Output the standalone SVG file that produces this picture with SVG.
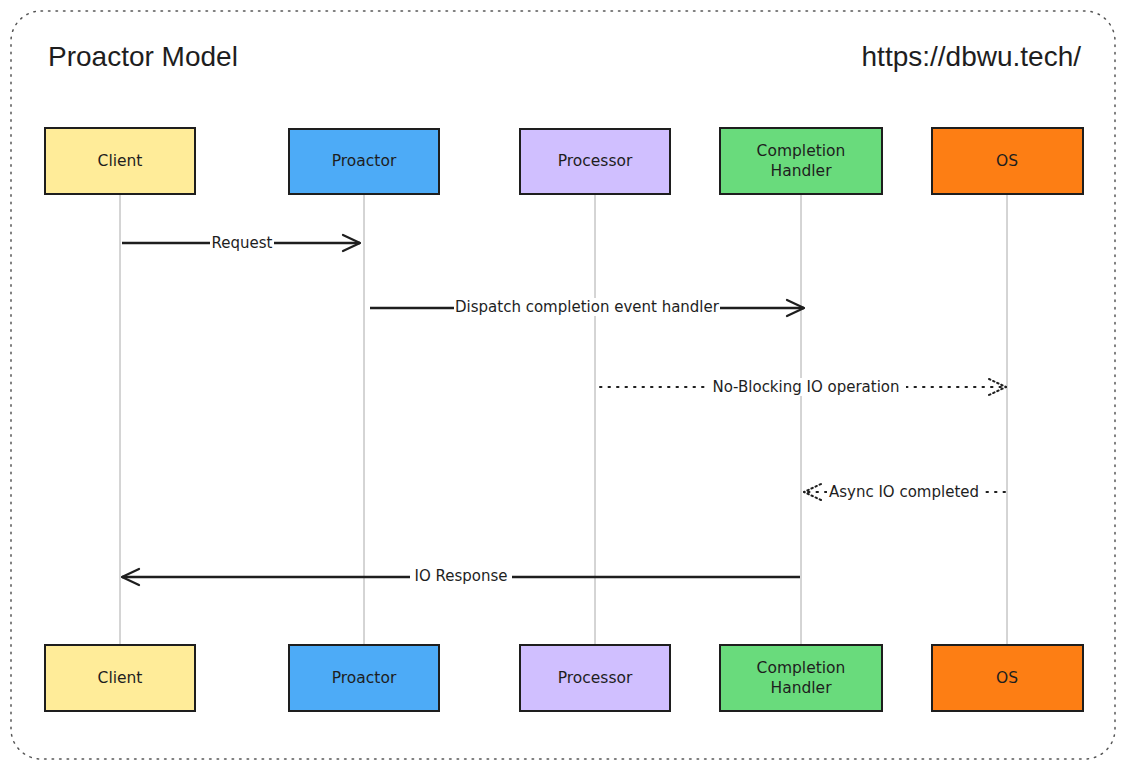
<svg xmlns="http://www.w3.org/2000/svg" width="1125" height="769" viewBox="0 0 1125 769">
<defs>
<marker id="arr" viewBox="0 0 20 20" refX="19" refY="10" markerWidth="20" markerHeight="20" markerUnits="userSpaceOnUse" orient="auto">
<path d="M2,2 L19,10 L2,18" fill="none" stroke="#1e1e1e" stroke-width="2.2" stroke-linecap="round"/>
</marker>
<marker id="arrd" viewBox="0 0 20 20" refX="19" refY="10" markerWidth="20" markerHeight="20" markerUnits="userSpaceOnUse" orient="auto">
<path d="M2,2 L19,10 L2,18" fill="none" stroke="#1e1e1e" stroke-width="2" stroke-dasharray="1.5 3" stroke-linecap="round"/>
</marker>
</defs>
<style>
.node rect{stroke:#1e1e1e;stroke-width:2}
.nt{font-family:"DejaVu Sans",sans-serif;font-size:15.5px;fill:#1e1e1e;text-anchor:middle}
.life{stroke:#aaa;stroke-width:1}
.solid{stroke:#1e1e1e;stroke-width:2.5;fill:none}
.dot{stroke:#1e1e1e;stroke-width:2;fill:none;stroke-dasharray:1.5 7;stroke-linecap:round}
.lbl{font-family:"DejaVu Sans",sans-serif;font-size:15px;fill:#1e1e1e;text-anchor:middle}
.lb{fill:#fff}
</style>
<rect width="1125" height="769" fill="#fff"/>
<rect x="11" y="11" width="1104" height="748" rx="30" fill="none" stroke="#555" stroke-width="1.5" stroke-dasharray="1.5 6" stroke-linecap="round"/>
<text x="48" y="66" font-family="Liberation Sans, Arial, sans-serif" font-size="28" fill="#1e1e1e">Proactor Model</text>
<text x="1081" y="66" font-family="Liberation Sans, Arial, sans-serif" font-size="28" fill="#1e1e1e" text-anchor="end">https://dbwu.tech/</text>
<g id="lifelines">
<line class="life" x1="120" y1="194" x2="120" y2="645"/>
<line class="life" x1="364" y1="194" x2="364" y2="645"/>
<line class="life" x1="595" y1="194" x2="595" y2="645"/>
<line class="life" x1="801" y1="194" x2="801" y2="645"/>
<line class="life" x1="1007" y1="194" x2="1007" y2="645"/>
</g>
<g id="client-top" class="node"><rect x="45" y="128" width="150" height="66" fill="#ffec99"/><text class="nt" x="120" y="166">Client</text></g>
<g id="proactor-top" class="node"><rect x="289" y="129" width="150" height="65" fill="#4dabf7"/><text class="nt" x="364" y="166">Proactor</text></g>
<g id="processor-top" class="node"><rect x="520" y="129" width="150" height="65" fill="#d0bfff"/><text class="nt" x="595" y="166">Processor</text></g>
<g id="handler-top" class="node"><rect x="720" y="128" width="162" height="66" fill="#69db7c"/><text class="nt" x="801" y="156">Completion</text><text class="nt" x="801" y="176">Handler</text></g>
<g id="os-top" class="node"><rect x="932" y="128" width="151" height="66" fill="#fd7e14"/><text class="nt" x="1007" y="166">OS</text></g>
<g id="client-bottom" class="node"><rect x="45" y="645" width="150" height="66" fill="#ffec99"/><text class="nt" x="120" y="683">Client</text></g>
<g id="proactor-bottom" class="node"><rect x="289" y="645" width="150" height="66" fill="#4dabf7"/><text class="nt" x="364" y="683">Proactor</text></g>
<g id="processor-bottom" class="node"><rect x="520" y="645" width="150" height="66" fill="#d0bfff"/><text class="nt" x="595" y="683">Processor</text></g>
<g id="handler-bottom" class="node"><rect x="720" y="645" width="162" height="66" fill="#69db7c"/><text class="nt" x="801" y="673">Completion</text><text class="nt" x="801" y="693">Handler</text></g>
<g id="os-bottom" class="node"><rect x="932" y="645" width="151" height="66" fill="#fd7e14"/><text class="nt" x="1007" y="683">OS</text></g>
<g id="connectors">
<line class="solid" x1="122" y1="243" x2="360" y2="243" marker-end="url(#arr)"/>
<rect class="lb" x="210" y="234" width="64" height="18"/>
<text class="lbl" x="242" y="248">Request</text>
<line class="solid" x1="370" y1="308" x2="804" y2="308" marker-end="url(#arr)"/>
<rect class="lb" x="454" y="298" width="266" height="18"/>
<text class="lbl" x="587" y="312">Dispatch completion event handler</text>
<line class="dot" x1="600" y1="387" x2="1006" y2="387" marker-end="url(#arrd)"/>
<rect class="lb" x="706" y="378" width="200" height="18"/>
<text class="lbl" x="806" y="392">No-Blocking IO operation</text>
<line class="dot" x1="1005" y1="492" x2="804" y2="492" marker-end="url(#arrd)"/>
<rect class="lb" x="827" y="483" width="155" height="18"/>
<text class="lbl" x="904" y="497">Async IO completed</text>
<line class="solid" x1="800" y1="577" x2="122" y2="577" marker-end="url(#arr)"/>
<rect class="lb" x="410" y="567" width="102" height="18"/>
<text class="lbl" x="461" y="581">IO Response</text>
</g>
</svg>
